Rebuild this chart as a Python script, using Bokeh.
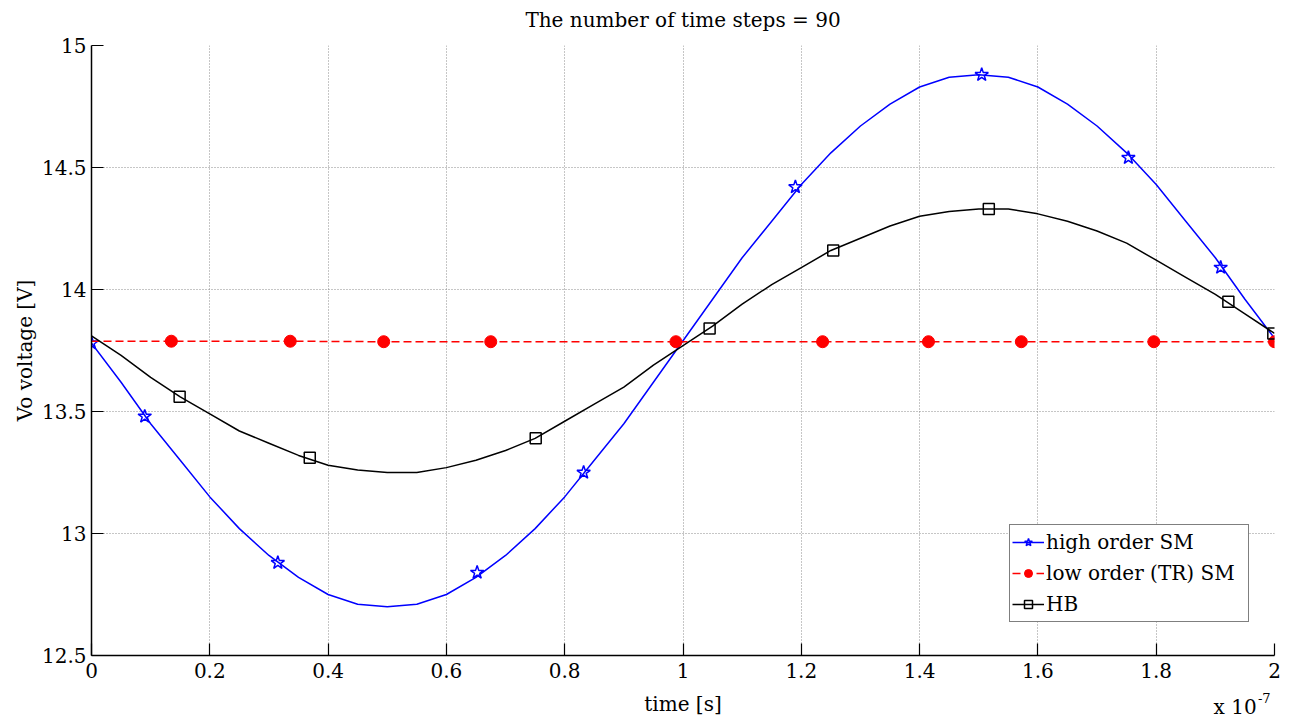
from bokeh.plotting import figure
from bokeh.layouts import column
from bokeh.models import Range1d, FixedTicker, Legend, LegendItem, Label
from bokeh.embed import file_html
from bokeh.resources import INLINE

FONT = "DejaVu Serif"

# ---- data (time in units of 1e-7 s) ----
time_ticks = [0, 0.2, 0.4, 0.6, 0.8, 1.0, 1.2, 1.4, 1.6, 1.8, 2.0]
time_tick_labels = ["0", "0.2", "0.4", "0.6", "0.8", "1", "1.2", "1.4", "1.6", "1.8", "2"]
volt_ticks = [12.5, 13.0, 13.5, 14.0, 14.5, 15.0]
volt_tick_labels = ["12.5", "13", "13.5", "14", "14.5", "15"]

t_curve = [0.00, 0.05, 0.10, 0.15, 0.20, 0.25, 0.30, 0.35, 0.40, 0.45,
           0.50, 0.55, 0.60, 0.65, 0.70, 0.75, 0.80, 0.85, 0.90, 0.95,
           1.00, 1.05, 1.10, 1.15, 1.20, 1.25, 1.30, 1.35, 1.40, 1.45,
           1.50, 1.55, 1.60, 1.65, 1.70, 1.75, 1.80, 1.85, 1.90, 1.95, 2.00]
high_v = [13.78, 13.62, 13.45, 13.30, 13.15, 13.02, 12.91, 12.82, 12.75, 12.71,
          12.70, 12.71, 12.75, 12.82, 12.91, 13.02, 13.15, 13.30, 13.45, 13.62,
          13.79, 13.96, 14.13, 14.28, 14.43, 14.56, 14.67, 14.76, 14.83, 14.87,
          14.88, 14.87, 14.83, 14.76, 14.67, 14.56, 14.43, 14.28, 14.13, 13.96, 13.80]
hb_v = [13.81, 13.73, 13.64, 13.56, 13.49, 13.42, 13.37, 13.32, 13.28, 13.26,
        13.25, 13.25, 13.27, 13.30, 13.34, 13.39, 13.46, 13.53, 13.60, 13.69,
        13.77, 13.85, 13.94, 14.02, 14.09, 14.16, 14.21, 14.26, 14.30, 14.32,
        14.33, 14.33, 14.31, 14.28, 14.24, 14.19, 14.12, 14.05, 13.98, 13.90, 13.82]

high_mark_t = [0.0, 0.090, 0.315, 0.652, 0.832, 1.190, 1.505, 1.753, 1.909]
high_mark_v = [13.78, 13.48, 12.88, 12.84, 13.25, 14.42, 14.88, 14.54, 14.09]

low_t = [0.0, 0.135, 0.336, 0.494, 0.675, 0.988, 1.236, 1.415, 1.572, 1.796, 2.0]
low_v = [13.788, 13.788, 13.788, 13.786, 13.786, 13.786, 13.786, 13.786, 13.786, 13.786, 13.786]

hb_mark_t = [0.149, 0.369, 0.751, 1.045, 1.254, 1.517, 1.922, 1.998]
hb_mark_v = [13.56, 13.31, 13.39, 13.84, 14.16, 14.33, 13.95, 13.82]

series_names = ["high order SM", "low order (TR) SM", "HB"]
title_text = "The number of time steps = 90"
x_label = "time [s]"
y_label = "Vo voltage [V]"


def text_strip(h):
    f = figure(width=1293, height=h, min_border=0, min_border_left=91, min_border_right=19,
               min_border_top=0, min_border_bottom=0,
               x_range=Range1d(0, 2), y_range=Range1d(0, 1),
               x_axis_type=None, y_axis_type=None,
               output_backend="svg", toolbar_location=None, tools="")
    f.outline_line_color = None
    f.grid.visible = False
    f.background_fill_color = "white"
    f.border_fill_color = "white"
    return f


# ---- title strip ----
top = text_strip(33)
top.add_layout(Label(x=1.0, y=0.42, text=title_text, text_font=FONT, text_font_size="20px",
                     text_baseline="middle", text_align="center", text_color="black"))

# ---- main plot ----
p = figure(width=1293, height=652,
           min_border_left=91, min_border_right=19, min_border_top=12, min_border_bottom=30,
           x_range=Range1d(0, 2), y_range=Range1d(12.5, 15),
           output_backend="svg", toolbar_location=None, tools="")
p.outline_line_color = None
p.background_fill_color = "white"
p.border_fill_color = "white"

for ax in (p.xaxis[0], p.yaxis[0]):
    ax.axis_line_color = "black"
    ax.axis_line_width = 1.5
    ax.major_tick_in = 12
    ax.major_tick_out = 0
    ax.major_tick_line_color = "black"
    ax.major_tick_line_width = 1.2
    ax.minor_tick_line_color = None
    ax.major_label_text_font = FONT
    ax.major_label_text_font_size = "20px"
    ax.major_label_text_color = "black"
    ax.axis_label_text_font = FONT
    ax.axis_label_text_font_size = "20px"
    ax.axis_label_text_font_style = "normal"
    ax.axis_label_text_color = "black"

p.xaxis.ticker = FixedTicker(ticks=time_ticks)
p.xaxis.major_label_overrides = {t: s for t, s in zip(time_ticks, time_tick_labels)}
p.yaxis.ticker = FixedTicker(ticks=volt_ticks)
p.yaxis.major_label_overrides = {t: s for t, s in zip(volt_ticks, volt_tick_labels)}
p.yaxis.axis_label = y_label
p.xaxis.major_label_standoff = 7
p.yaxis.major_label_standoff = 5
p.yaxis.axis_label_standoff = 2

for g in (p.xgrid[0], p.ygrid[0]):
    g.grid_line_color = "#8c8c8c"
    g.grid_line_dash = "1 2"
    g.grid_line_width = 1

# high order SM (blue)
l1 = p.line(t_curve, high_v, line_color="#0000ff", line_width=1.5)
m1 = p.scatter(high_mark_t, high_mark_v, marker="star", size=14,
               fill_color=None, line_color="#0000ff", line_width=1.5)
# low order (TR) SM (red)
l2 = p.line(low_t, low_v, line_color="#ff0000", line_width=1.5, line_dash="8 4")
m2 = p.scatter(low_t[1:], low_v[1:], marker="circle", size=12,
               fill_color="#ff0000", line_color="#ff0000")
# HB (black)
l3 = p.line(t_curve, hb_v, line_color="black", line_width=1.5)
m3 = p.scatter(hb_mark_t, hb_mark_v, marker="square", size=11,
               fill_color=None, line_color="black", line_width=1.5)

legend = Legend(items=[LegendItem(label=series_names[0], renderers=[l1, m1]),
                       LegendItem(label=series_names[1], renderers=[l2, m2]),
                       LegendItem(label=series_names[2], renderers=[l3, m3])],
                location=(918, 33), margin=0, padding=2, spacing=1,
                glyph_width=32, glyph_height=20, label_height=30, label_width=200,
                label_standoff=2,
                label_text_font=FONT, label_text_font_size="20px",
                label_text_color="black",
                border_line_color="black", border_line_width=1.5,
                background_fill_color="white", background_fill_alpha=1.0)
p.add_layout(legend, "center")

# ---- x label strip ----
bot = text_strip(34)
bot.add_layout(Label(x=1.0, y=0.47, text=x_label, text_font=FONT, text_font_size="20px",
                     text_baseline="middle", text_align="center", text_color="black"))
bot.add_layout(Label(x=1.897, y=0.36, text="x 10", text_font=FONT, text_font_size="20px",
                     text_baseline="alphabetic", text_align="left", text_color="black"))
bot.add_layout(Label(x=1.972, y=0.62, text="-7", text_font=FONT, text_font_size="13px",
                     text_baseline="alphabetic", text_align="left", text_color="black"))

layout = column(top, p, bot, spacing=0)
open("out.html", "w").write(file_html(layout, INLINE))
